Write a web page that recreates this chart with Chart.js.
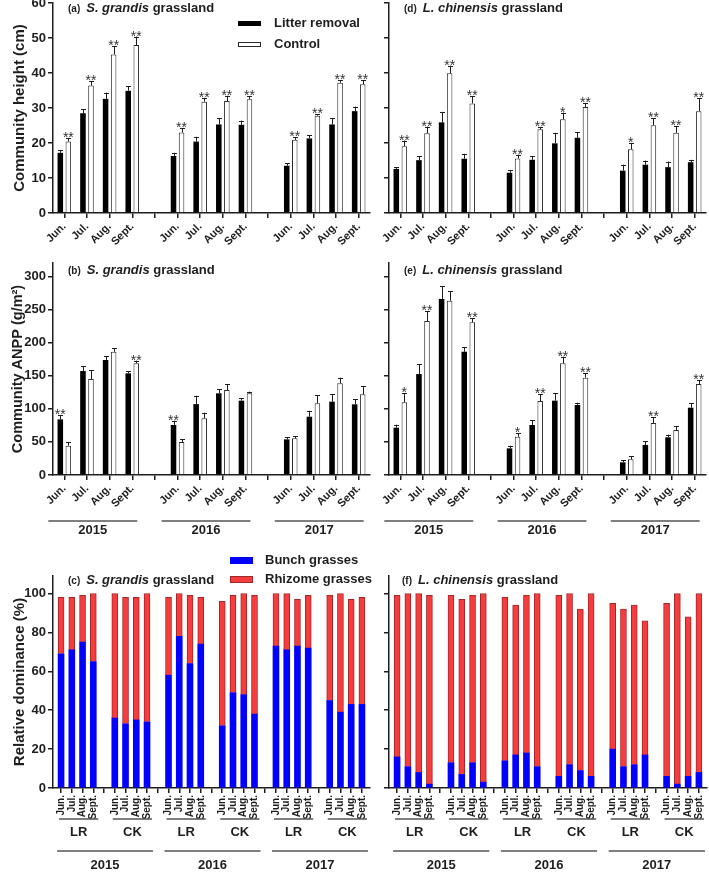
<!DOCTYPE html>
<html><head><meta charset="utf-8">
<script src="https://cdn.jsdelivr.net/npm/chart.js@4/dist/chart.umd.min.js"></script>
<style>
html,body{margin:0;padding:0;background:#fff;width:709px;height:872px;overflow:hidden;position:relative}
canvas{position:absolute}
</style></head><body>
<canvas id="cA" style="left:0;top:0" width="380" height="258"></canvas>
<canvas id="cD" style="left:336px;top:0" width="373" height="258"></canvas>
<canvas id="cB" style="left:0;top:255px" width="380" height="290"></canvas>
<canvas id="cE" style="left:336px;top:255px" width="373" height="290"></canvas>
<canvas id="cC" style="left:0;top:545px" width="380" height="327"></canvas>
<canvas id="cF" style="left:336px;top:545px" width="373" height="327"></canvas>
<script>
// ---------------- data ----------------
const months = ['Jun.','Jul.','Aug.','Sept.'];
const years = ['2015','2016','2017'];
const treatments = ['LR','CK'];
const heightTicks = [0,10,20,30,40,50,60];
const anppTicks = [0,50,100,150,200,250,300];
const domTicks = [0,20,40,60,80,100];

// (a) S. grandis community height (cm), 2015-2017 Jun..Sept
const heightSG_LR     = [17.2,28.5,32.6,34.9, 16.3,20.4,25.3,25.2, 13.5,21.3,25.3,29.1];
const heightSG_LR_err = [0.8,1.2,1.8,1.4, 0.9,1.4,1.8,1.2, 0.7,1.0,1.8,1.3];
const heightSG_CK     = [20.4,36.4,45.3,48.0, 23.0,31.8,32.0,32.5, 20.9,27.8,37.2,36.8];
const heightSG_CK_err = [0.9,1.3,2.4,2.4, 1.2,1.1,1.5,0.8, 0.7,0.5,0.8,1.2];
const heightSG_sigLR  = ['','','','', '','','','', '','','',''];
const heightSG_sigCK  = ['**','**','**','**', '**','**','**','**', '**','**','**','**'];

// (d) L. chinensis community height (cm)
const heightLC_LR     = [12.6,15.1,25.9,15.5, 11.5,15.2,19.9,21.5, 12.1,13.8,13.1,14.5];
const heightLC_LR_err = [0.5,1.1,3.0,1.4, 0.7,1.1,3.0,1.6, 1.7,1.2,1.6,0.7];
const heightLC_CK     = [19.1,22.8,39.9,31.3, 15.6,23.9,26.8,30.3, 18.2,25.1,22.9,29.1];
const heightLC_CK_err = [1.6,1.9,2.2,2.0, 1.1,0.7,1.9,1.0, 1.7,2.0,1.9,3.7];
const heightLC_sigLR  = ['','','','', '','','','', '','','',''];
const heightLC_sigCK  = ['**','**','**','**', '**','**','*','**', '*','**','**','**'];

// (b) S. grandis community ANPP (g/m2)
const anppSG_LR     = [84,157,173.6,153.5, 75.5,107,123.3,112.2, 53.8,88,110.7,106.7];
const anppSG_LR_err = [6.5,7.5,6,3.5, 6.5,12.7,6,3.5, 3,9,11.6,7.5];
const anppSG_CK     = [44.3,145,186,168.6, 49.8,85.5,128.3,123.3, 55.3,108.2,138.4,121.8];
const anppSG_CK_err = [5,13.5,5,4, 4,8.5,8.6,2.5, 3.5,12,8.5,12.6];
const anppSG_sigLR  = ['**','','','', '**','','','', '','','',''];
const anppSG_sigCK  = ['','','','**', '','','','', '','','',''];

// (e) L. chinensis community ANPP (g/m2)
const anppLC_LR     = [71.4,152.5,265.7,186.1, 40.2,75.5,112.2,105.7, 19.1,45.3,56.9,101.6];
const anppLC_LR_err = [4.6,15,19.6,6.6, 4.1,7,11.6,3.4, 3.5,5.5,4,6.6];
const anppLC_CK     = [109.7,232.5,263.1,230.5, 57.9,111.7,168.6,146.9, 23.6,78.5,67.9,137.4];
const anppLC_CK_err = [13.6,15,14,6, 5,10.6,10,6.6, 5,8.5,6,6];
const anppLC_sigLR  = ['','','','', '','','','', '','','',''];
const anppLC_sigCK  = ['*','**','','**', '*','**','**','**', '','**','','**'];

// (c) S. grandis relative dominance (%), LR2015, CK2015, LR2016, CK2016, LR2017, CK2017
const bunchSG   = [69,71,75,65, 36,33,35,34, 58,78,64,74, 32,49,48,38, 73,71,73,72, 45,39,43,43];
const rhizomeSG = [29,27,24,35, 64,65,63,66, 40,22,35,24, 64,50,52,61, 27,29,24,27, 54,61,54,55];
// (f) L. chinensis relative dominance (%)
const bunchLC   = [16,11,8,2, 13,7,13,3, 14,17,18,11, 6,12,9,6, 20,11,12,17, 6,2,6,8];
const rhizomeLC = [83,89,92,97, 86,90,86,97, 84,77,81,89, 93,88,83,94, 75,81,82,69, 89,98,82,92];

// ---------------- helpers ----------------
const FONT = "'Liberation Sans', Arial, Helvetica, sans-serif";
const INK = '#1e1e1e';
const GRAY = '#555';
function withGaps(arr){ const out=[]; arr.forEach((v,i)=>{ out.push(v); if(i%4===3 && i<arr.length-1) out.push(null); }); return out; }
const catLabels = Array.from({length:14},(_,i)=> i%5===4 ? '' : months[i%5]);
const slotLabels = Array.from({length:29},(_,i)=> i%5===4 ? '' : months[i%5]);
const slotIdx = Array.from({length:29},(_,i)=>i);
function slotPoints(arr){ return arr.map((v,k)=>({x: Math.floor(k/4)*5 + k%4, y: v})); }

const errorBarPlugin = {
  id:'errbars',
  afterDatasetsDraw(chart){
    const ctx = chart.ctx, ys = chart.scales.y;
    chart.data.datasets.forEach((ds,di)=>{
      if(!ds.errors) return;
      const meta = chart.getDatasetMeta(di);
      meta.data.forEach((el,j)=>{
        const v = ds.data[j]; if(v==null) return;
        const e = ds.errors[j];
        const yTop = ys.getPixelForValue(v+e);
        const x = Math.round(el.x)+0.5;
        ctx.save();
        ctx.strokeStyle = INK; ctx.lineWidth = 1;
        ctx.beginPath();
        ctx.moveTo(x, el.y); ctx.lineTo(x, yTop);
        ctx.moveTo(x-2.5, Math.round(yTop)+0.5); ctx.lineTo(x+2.5, Math.round(yTop)+0.5);
        ctx.stroke();
        const s = ds.sig && ds.sig[j];
        if(s){ ctx.fillStyle = '#333'; ctx.font = '14px '+FONT; ctx.textAlign='center'; ctx.textBaseline='alphabetic'; ctx.fillText(s, el.x, yTop+4); }
        ctx.restore();
      });
    });
  }
};

const titlePlugin = {
  id:'panelTitle',
  afterDraw(chart,args,o){
    if(!o || !o.tag) return;
    const ctx = chart.ctx; let x = o.x; const y = o.y;
    ctx.save(); ctx.fillStyle = INK; ctx.textBaseline='alphabetic'; ctx.textAlign='left';
    ctx.font = 'bold 10px '+FONT; ctx.fillText(o.tag,x,y); x += ctx.measureText(o.tag).width + 6;
    ctx.font = 'italic bold 13px '+FONT; ctx.fillText(o.italic,x,y); x += ctx.measureText(o.italic).width;
    ctx.font = 'bold 13px '+FONT; ctx.fillText(o.rest,x,y);
    ctx.restore();
  }
};

const legendPlugin = {
  id:'boxLegend',
  afterDraw(chart,args,o){
    if(!o || !o.show) return;
    const ctx = chart.ctx;
    chart.data.datasets.forEach((ds,i)=>{
      const y = o.y + i*o.dy;
      ctx.save();
      ctx.fillStyle = ds.backgroundColor; ctx.fillRect(o.x, y, o.w, o.h);
      if(ds.borderWidth){ ctx.strokeStyle = ds.borderColor; ctx.lineWidth = 1; ctx.strokeRect(o.x+0.5, y+0.5, o.w-1, o.h-1); }
      ctx.fillStyle = INK; ctx.font = 'bold '+o.size+'px '+FONT; ctx.textBaseline='middle'; ctx.textAlign='left';
      ctx.fillText(ds.label, o.textX, y + o.h/2);
      ctx.restore();
    });
  }
};

const groupPlugin = {
  id:'groups',
  afterDraw(chart,args,o){
    if(!o || !o.groups) return;
    const ctx = chart.ctx, xs = chart.scales.x;
    o.groups.forEach(g=>{
      const x0 = xs.getPixelForValue(g.from) + g.padL, x1 = xs.getPixelForValue(g.to) + g.padR;
      ctx.save();
      ctx.strokeStyle = GRAY; ctx.lineWidth = 1.5;
      ctx.beginPath(); ctx.moveTo(x0, g.lineY); ctx.lineTo(x1, g.lineY); ctx.stroke();
      ctx.fillStyle = INK; ctx.font = 'bold '+g.size+'px '+FONT; ctx.textAlign='center'; ctx.textBaseline='middle';
      ctx.fillText(g.text, (x0+x1)/2, g.textY);
      ctx.restore();
    });
  }
};

function yScale(o){
  return {
    min:0, max:o.max, stacked:!!o.stacked,
    afterBuildTicks: s => { s.ticks = o.ticks.map(v=>({value:v})); },
    ticks:{display:o.labels, color:INK, font:{family:FONT,size:13,weight:'bold'}, padding:2},
    grid:{display:true, drawOnChartArea:false, drawTicks:true, tickLength:5, color:INK, lineWidth:1.5},
    border:{display:true, color:INK, width:1.5},
    title: o.title ? {display:true, text:o.title, color:INK, font:{family:FONT,size:o.titleSize,weight:'bold'}, padding:{top:o.titlePad,bottom:0}} : {display:false},
    afterFit: s => { s.width = 53; s.paddingTop = 0; s.paddingBottom = 0; }
  };
}
function xCatScale(h){
  return {
    type:'category', offset:true,
    grid:{offset:false, drawOnChartArea:false, drawTicks:true, tickLength:5, color:INK, lineWidth:1.5},
    border:{display:true, color:INK, width:1.5},
    ticks:{autoSkip:false, minRotation:45, maxRotation:45, color:INK, font:{family:FONT,size:11,weight:'bold'}, padding:2},
    afterFit: s => { s.height = h; s.paddingLeft = 0; s.paddingRight = 0; }
  };
}
function xSlotScale(h){
  return {
    type:'linear', min:-0.75, max:28.75, offset:false, stacked:true,
    afterBuildTicks: s => { s.ticks = slotIdx.map(v=>({value:v})); },
    grid:{offset:false, drawOnChartArea:false, drawTicks:true, tickLength:5, color:INK, lineWidth:1.5},
    border:{display:true, color:INK, width:1.5},
    ticks:{autoSkip:false, minRotation:90, maxRotation:90, color:INK, font:{family:FONT,size:10,weight:'bold'}, padding:2,
      callback: v => slotLabels[v] ?? ''},
    afterFit: s => { s.height = h; s.paddingLeft = 0; s.paddingRight = 0; }
  };
}

function pairChart(id, o){
  return new Chart(document.getElementById(id), {
    type:'bar',
    data:{ labels:catLabels, datasets:[
      {label:'Litter removal', data:withGaps(o.lr), errors:withGaps(o.lrErr), sig:withGaps(o.sigLR),
       backgroundColor:'#000000', borderWidth:0, categoryPercentage:0.71, barPercentage:0.69},
      {label:'Control', data:withGaps(o.ck), errors:withGaps(o.ckErr), sig:withGaps(o.sigCK),
       backgroundColor:'#ffffff', borderColor:'#2a2a2a', borderWidth:1, categoryPercentage:0.71, barPercentage:0.69}
    ]},
    options:{
      responsive:false, animation:false, devicePixelRatio:1, events:[],
      layout:{padding:{left:0, top:o.padTop, right:o.padRight, bottom:0}},
      scales:{ x:xCatScale(o.xh), y:yScale(o.y) },
      plugins:{ legend:{display:false}, tooltip:{enabled:false},
        panelTitle:o.title, boxLegend:o.legend || {show:false}, groups:o.groups || {} }
    },
    plugins:[errorBarPlugin, titlePlugin, legendPlugin, groupPlugin]
  });
}

function stackChart(id, o){
  return new Chart(document.getElementById(id), {
    type:'bar',
    data:{ datasets:[
      {label:'Bunch grasses', data:slotPoints(o.bunch), backgroundColor:'#0000ff', borderWidth:0, barThickness:6},
      {label:'Rhizome grasses', data:slotPoints(o.rhizome), backgroundColor:'#f63c3c', borderColor:'#a3262a', borderWidth:1, barThickness:6}
    ]},
    options:{
      responsive:false, animation:false, devicePixelRatio:1, events:[],
      layout:{padding:{left:0, top:31, right:o.padRight, bottom:0}},
      scales:{ x:xSlotScale(84), y:yScale(o.y) },
      plugins:{ legend:{display:false}, tooltip:{enabled:false},
        panelTitle:o.title, boxLegend:o.legend || {show:false}, groups:o.groups }
    },
    plugins:[titlePlugin, legendPlugin, groupPlugin]
  });
}

const yearGroupsB = years.map((yr,g)=>({text:yr, from:g*5, to:g*5+3, padL:-16, padR:5, lineY:266, textY:275, size:13}));
const slotGroups = [];
years.forEach((yr,g)=>{
  treatments.forEach((t,k)=>{
    const s = g*10 + k*5;
    slotGroups.push({text:t, from:s, to:s+3, padL:-2, padR:5, lineY:274, textY:287, size:13});
  });
  slotGroups.push({text:yr, from:g*10, to:g*10+8, padL:-4, padR:6, lineY:306, textY:320, size:13});
});

pairChart('cA', {lr:heightSG_LR, lrErr:heightSG_LR_err, ck:heightSG_CK, ckErr:heightSG_CK_err, sigLR:heightSG_sigLR, sigCK:heightSG_sigCK,
  padTop:3, padRight:10, xh:45,
  y:{max:60, ticks:heightTicks, labels:true, title:'Community height (cm)', titleSize:15, titlePad:11},
  title:{tag:'(a)', italic:'S. grandis', rest:' grassland', x:68, y:12},
  legend:{show:true, x:238, y:21, w:23, h:5, dy:21, textX:274, size:13}});
pairChart('cD', {lr:heightLC_LR, lrErr:heightLC_LR_err, ck:heightLC_CK, ckErr:heightLC_CK_err, sigLR:heightLC_sigLR, sigCK:heightLC_sigCK,
  padTop:3, padRight:3, xh:45,
  y:{max:60, ticks:heightTicks, labels:false},
  title:{tag:'(d)', italic:'L. chinensis', rest:' grassland', x:68, y:12}});
pairChart('cB', {lr:anppSG_LR, lrErr:anppSG_LR_err, ck:anppSG_CK, ckErr:anppSG_CK_err, sigLR:anppSG_sigLR, sigCK:anppSG_sigCK,
  padTop:8, padRight:10, xh:70,
  y:{max:320, ticks:anppTicks, labels:true, title:'Community ANPP (g/m\u00B2)', titleSize:14.5, titlePad:9},
  title:{tag:'(b)', italic:'S. grandis', rest:' grassland', x:68, y:19},
  groups:{groups:yearGroupsB}});
pairChart('cE', {lr:anppLC_LR, lrErr:anppLC_LR_err, ck:anppLC_CK, ckErr:anppLC_CK_err, sigLR:anppLC_sigLR, sigCK:anppLC_sigCK,
  padTop:8, padRight:3, xh:70,
  y:{max:320, ticks:anppTicks, labels:false},
  title:{tag:'(e)', italic:'L. chinensis', rest:' grassland', x:68, y:19},
  groups:{groups:yearGroupsB}});
stackChart('cC', {bunch:bunchSG, rhizome:rhizomeSG, padRight:10,
  y:{max:109, ticks:domTicks, labels:true, stacked:true, title:'Relative dominance (%)', titleSize:15, titlePad:11},
  title:{tag:'(c)', italic:'S. grandis', rest:' grassland', x:68, y:39},
  legend:{show:true, x:230, y:12, w:23, h:7, dy:19, textX:265, size:13},
  groups:{groups:slotGroups}});
stackChart('cF', {bunch:bunchLC, rhizome:rhizomeLC, padRight:2,
  y:{max:109, ticks:domTicks, labels:false, stacked:true},
  title:{tag:'(f)', italic:'L. chinensis', rest:' grassland', x:66, y:39},
  groups:{groups:slotGroups}});
</script>
</body></html>
